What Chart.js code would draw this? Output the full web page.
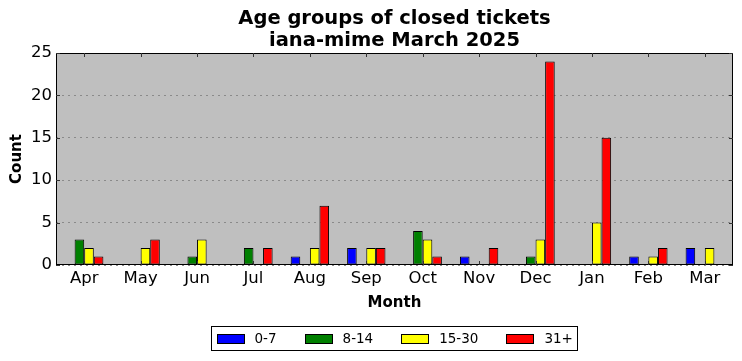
<!DOCTYPE html>
<html>
<head>
<meta charset="utf-8">
<script src="https://cdn.jsdelivr.net/npm/chart.js@4/dist/chart.umd.min.js"></script>
<style>
html,body{margin:0;padding:0;background:#fff;}
#wrap{width:742px;height:361px;position:relative;}
</style>
</head>
<body>
<div id="wrap"><canvas id="c" width="742" height="361"></canvas></div>
<script>
const months = ["Apr","May","Jun","Jul","Aug","Sep","Oct","Nov","Dec","Jan","Feb","Mar"];
const seriesNames = ["0-7","8-14","15-30","31+"];
const seriesColors = ["#0000ff","#008000","#ffff00","#ff0000"];
const age0to7   = [0,0,0,0,1,2,0,1,0,0,1,2];
const age8to14  = [3,0,1,2,0,0,4,0,1,0,0,0];
const age15to30 = [2,2,3,0,2,2,3,0,3,5,1,2];
const age31plus = [1,3,0,2,7,2,1,2,24,15,2,0];
const yTicks = [0,5,10,15,20,25];
const titleLines = ["Age groups of closed tickets","iana-mime March 2025"];

const seriesData = [age0to7, age8to14, age15to30, age31plus];
const FONT = "'DejaVu Sans', sans-serif";

const frame = {
  id:'frame',
  beforeDraw(chart){
    const {ctx, chartArea:a} = chart;
    ctx.save();
    ctx.fillStyle = '#bfbfbf';
    ctx.fillRect(a.left, a.top, a.right-a.left, a.bottom-a.top);
    ctx.restore();
  },
  afterDraw(chart){
    const {ctx, chartArea:a, scales} = chart;
    ctx.save();
    ctx.strokeStyle = '#000';
    ctx.lineWidth = 1;
    ctx.strokeRect(a.left+0.5, a.top+0.5, a.right-a.left-1, a.bottom-a.top-1);
    ctx.strokeStyle = '#333';
    ctx.beginPath();
    const L = 4;
    months.forEach((m,i)=>{
      const x = Math.round(scales.x.getPixelForValue(i))+0.5;
      ctx.moveTo(x, a.bottom); ctx.lineTo(x, a.bottom-L);
      ctx.moveTo(x, a.top); ctx.lineTo(x, a.top+L);
    });
    yTicks.forEach(v=>{
      const y = Math.round(scales.y.getPixelForValue(v))+0.5;
      ctx.moveTo(a.left, y); ctx.lineTo(a.left+L, y);
      ctx.moveTo(a.right, y); ctx.lineTo(a.right-L, y);
    });
    ctx.stroke();

    const cx = (a.left + a.right)/2;

    // title centred over the plot area
    ctx.fillStyle = '#000';
    ctx.textAlign = 'center';
    ctx.textBaseline = 'middle';
    ctx.font = "bold 19.5px " + FONT;
    titleLines.forEach((t,i)=> ctx.fillText(t, cx, 19 + i*22));

    // legend (matplotlib-style box under the plot)
    ctx.textAlign = 'left';
    ctx.font = "13.5px " + FONT;
    const boxW = 28, boxH = 10, gap = 10, spacing = 28, pad = 5;
    const widths = seriesNames.map(n=>ctx.measureText(n).width);
    const total = widths.reduce((s,w)=>s+boxW+gap+w,0) + spacing*(seriesNames.length-1) + pad*2;
    const lx = Math.round(cx - total/2) + 0.5;
    const ly = 326.5, lh = 24;
    ctx.strokeStyle = '#000';
    ctx.strokeRect(lx, ly, Math.round(total), lh);
    let x = lx + pad;
    const cy = ly + lh/2;
    seriesNames.forEach((n,i)=>{
      ctx.fillStyle = seriesColors[i];
      ctx.fillRect(Math.round(x), Math.round(cy-boxH/2), boxW, boxH);
      ctx.strokeStyle = '#000';
      ctx.strokeRect(Math.round(x)+0.5, Math.round(cy-boxH/2)+0.5, boxW-1, boxH-1);
      ctx.fillStyle = '#000';
      ctx.fillText(n, x+boxW+gap, cy+1);
      x += boxW + gap + widths[i] + spacing;
    });
    ctx.restore();
  }
};

new Chart(document.getElementById('c'), {
  type:'bar',
  data:{
    labels: months,
    datasets: seriesData.map((d,i)=>({
      label: seriesNames[i],
      data: d,
      backgroundColor: seriesColors[i],
      borderColor:'#000',
      borderWidth:1,
      borderSkipped:false,
      categoryPercentage:0.68,
      barPercentage:1.0
    }))
  },
  options:{
    responsive:false,
    animation:false,
    devicePixelRatio:1,
    layout:{padding:{left:0,right:9,top:53,bottom:46}},
    plugins:{
      title:{display:false},
      legend:{display:false},
      tooltip:{enabled:false}
    },
    scales:{
      x:{
        afterFit(s){s.height=50;},
        grid:{display:false,drawTicks:false},
        border:{display:false},
        ticks:{color:'#000',font:{family:FONT,size:16.5},padding:4,maxRotation:0},
        title:{display:true,text:'Month',color:'#000',font:{family:FONT,size:15,weight:'bold'},padding:{top:0,bottom:3}}
      },
      y:{
        min:0,max:25,
        afterFit(s){s.width=56;},
        afterBuildTicks(s){s.ticks = yTicks.map(v=>({value:v}));},
        grid:{color:'#8a8a8a',drawTicks:false,lineWidth:1},
        border:{display:false,dash:[2,4]},
        ticks:{color:'#000',font:{family:FONT,size:16.5},padding:4},
        title:{display:true,text:'Count',color:'#000',font:{family:FONT,size:15,weight:'bold'},padding:{top:8,bottom:0}}
      }
    }
  },
  plugins:[frame]
});
</script>
</body>
</html>
